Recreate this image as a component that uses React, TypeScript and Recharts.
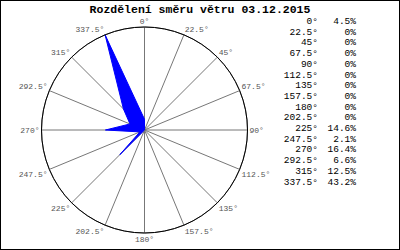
import { RadarChart, Radar, PolarGrid, PolarAngleAxis, PolarRadiusAxis } from 'recharts';

// wind direction sectors and share of time (%)
const directions = ['0', '22.5', '45', '67.5', '90', '112.5', '135', '157.5', '180', '202.5', '225', '247.5', '270', '292.5', '315', '337.5'];
const shares = [4.5, 0, 0, 0, 0, 0, 0, 0, 0, 0, 14.6, 2.1, 16.4, 6.6, 12.5, 43.2];
const shareLabels = ['4.5%', '0%', '0%', '0%', '0%', '0%', '0%', '0%', '0%', '0%', '14.6%', '2.1%', '16.4%', '6.6%', '12.5%', '43.2%'];

const data = directions.map((d, i) => ({ dir: d + '°', pct: shares[i] }));

const MONO = '"Liberation Mono", "DejaVu Sans Mono", monospace';

// place label so its box touches the circle, like the original
const AngleTick = (props: any) => {
  const { x, y, payload } = props;
  const a = (payload.coordinate * Math.PI) / 180;
  const c = Math.cos(a);
  const s = Math.sin(a);
  const anchor = c > 0.01 ? 'start' : c < -0.01 ? 'end' : 'middle';
  const dy = s > 0.01 ? -1 : s < -0.01 ? 7 : 3;
  return (
    <text x={x} y={y} dy={dy} textAnchor={anchor} fontFamily={MONO} fontSize={8} fill="#555">
      {payload.value}
    </text>
  );
};

export default function App() {
  return (
    <div
      style={{
        position: 'fixed',
        left: 0,
        top: 0,
        width: 400,
        height: 250,
        boxSizing: 'border-box',
        border: '1px solid #000',
        background: '#fff',
      }}
    >
      <RadarChart
        width={398}
        height={248}
        cx={143.5}
        cy={129}
        outerRadius={103}
        startAngle={90}
        endAngle={-270}
        data={data}
        margin={{ top: 0, right: 0, bottom: 0, left: 0 }}
      >
        <PolarGrid gridType="circle" polarRadius={[103]} stroke="#777" />
        <PolarRadiusAxis domain={[0, 43.2]} tick={false} axisLine={false} />
        <PolarAngleAxis
          dataKey="dir"
          tickSize={2}
          tickLine={false}
          axisLineType="circle"
          axisLine={{ stroke: '#000', strokeWidth: 1 }}
          tick={<AngleTick />}
        />
        <Radar dataKey="pct" fill="#0000ff" fillOpacity={1} stroke="#0000ff" isAnimationActive={false} />
        <text x={199} y={12} textAnchor="middle" fontFamily={MONO} fontWeight="bold" fontSize={11.5} fill="#000">
          Rozdělení směru větru 03.12.2015
        </text>
        {directions.map((d, i) => (
          <g key={d}>
            <text x={317} y={23 + i * 10.7} textAnchor="end" fontFamily={MONO} fontSize={9.5} fill="#000">
              {d}°
            </text>
            <text x={355} y={23 + i * 10.7} textAnchor="end" fontFamily={MONO} fontSize={9.5} fill="#000">
              {shareLabels[i]}
            </text>
          </g>
        ))}
      </RadarChart>
    </div>
  );
}
